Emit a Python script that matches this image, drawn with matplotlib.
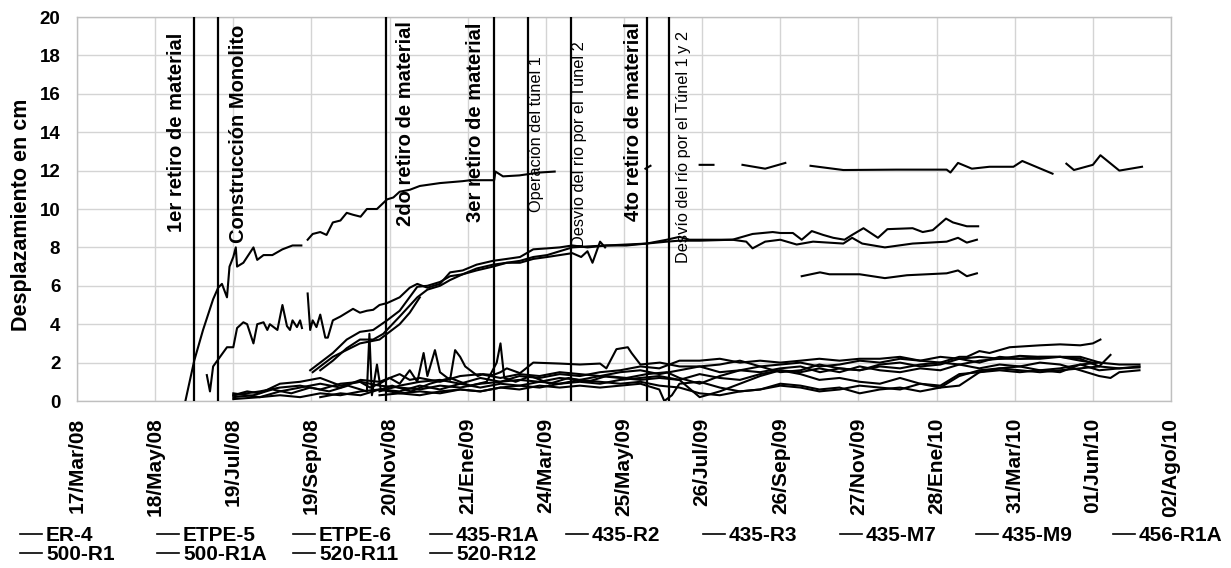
import numpy as np
import matplotlib
matplotlib.use('Agg')
import matplotlib.pyplot as plt
import matplotlib.dates as mdates
from matplotlib.lines import Line2D

plt.rcParams['font.family'] = ['Liberation Sans', 'DejaVu Sans']

nan = np.nan

# eje x: fechas (dias contados desde el 17/Mar/08)
start_date = '2008-03-17'
end_date = '2010-08-02'
tick_dates = ['2008-03-17', '2008-05-18', '2008-07-19', '2008-09-19', '2008-11-20',
              '2009-01-21', '2009-03-24', '2009-05-25', '2009-07-26', '2009-09-26',
              '2009-11-27', '2010-01-28', '2010-03-31', '2010-06-01', '2010-08-02']
tick_labels = ['17/Mar/08', '18/May/08', '19/Jul/08', '19/Sep/08', '20/Nov/08',
               '21/Ene/09', '24/Mar/09', '25/May/09', '26/Jul/09', '26/Sep/09',
               '27/Nov/09', '28/Ene/10', '31/Mar/10', '01/Jun/10', '02/Ago/10']
y_ticks = list(range(0, 21, 2))

# eventos de obra
event_dates = ['2008-06-18', '2008-07-07', '2008-11-17', '2009-02-11',
               '2009-03-10', '2009-04-13', '2009-06-12', '2009-06-30']
event_labels = ['1er retiro de material', 'Construcción Monolito', '2do retiro de material',
                '3er retiro de material', 'Operación del túnel 1', 'Desvío del río por el Túnel 2',
                '4to retiro de material', 'Desvío del río por el Túnel 1 y 2']

# series (dias, cm)
er4_days = [86, 93, 100, 108, 112, 115, 119, 121, 124, 126, 127, 132, 140, 143, 148, 155, 163, 167, 171, 178,
            180, 183, 187, 193, 198, 203, 209, 214, 219, 225, 230, 238, 246, 251, 256, 264, 272, 288, 306, 312,
            331, 332, 338, 351, 367, 379, 400, 451, 455, 470, 494, 505, 515, 528, 546, 562, 570, 582, 608, 650,
            690, 693, 699, 710, 724, 743, 750, 774, 780, 785, 791, 806, 812, 827, 845]
er4_cm = [0, 2.1, 3.7, 5.3, 5.9, 6.1, 5.4, 7.0, 7.5, 8.0, 7.0, 7.2, 8.0, 7.35, 7.6, 7.6, 7.9, 8.0, 8.1, 8.1,
          nan, 8.4, 8.7, 8.8, 8.65, 9.3, 9.4, 9.8, 9.7, 9.6, 10.0, 10.0, 10.5, 10.6, 10.9, 11.0, 11.2, 11.35, 11.45, 11.5,
          11.5, 11.95, 11.7, 11.75, 11.9, 11.95, nan, 12.1, 12.25, nan, 12.3, 12.3, nan, 12.3, 12.1, 12.4, nan, 12.25, 12.03, 12.05,
          12.05, 11.9, 12.4, 12.1, 12.2, 12.2, 12.5, 11.84, nan, 12.36, 12.03, 12.3, 12.8, 12.0, 12.2]

etpe5_days = [103, 105.5, 108, 119, 124, 127, 132, 135, 140, 143, 148, 151, 153, 159, 163, 166.6, 169, 171, 174.5, 177,
              178.5, 180, 183, 185, 187, 190, 193, 197, 199, 203, 209, 214, 219, 224.5, 230, 235, 240, 246, 256, 264,
              270, 278, 288, 296, 306, 317, 330, 341, 351.5, 362, 373, 383, 393, 405, 420, 436, 452, 468, 478, 486,
              494, 520, 536, 552, 558, 568, 575, 583, 592, 600, 609, 615, 624, 635.5, 643, 663, 671, 679, 689.5, 695,
              706, 715]
etpe5_cm = [1.35, 0.5, 1.8, 2.8, 2.8, 3.8, 4.1, 4.0, 3.0, 4.0, 4.1, 3.7, 4.0, 3.7, 5.0, 3.9, 3.7, 4.2, 3.85, 4.2,
            3.8, nan, 5.6, 3.7, 4.2, 3.85, 4.5, 3.3, 3.3, 4.2, 4.4, 4.6, 4.8, 4.6, 4.7, 4.75, 5.0, 5.1, 5.4, 5.9,
            6.1, 5.9, 6.1, 6.7, 6.8, 7.1, 7.3, 7.4, 7.5, 7.9, 7.95, 8.0, 8.1, 8.0, 8.1, 8.1, 8.2, 8.4, 8.55, 8.4,
            8.4, 8.4, 8.7, 8.8, 8.75, 8.75, 8.4, 8.85, 8.65, 8.5, 8.4, 8.65, 9.0, 8.5, 8.95, 9.0, 8.8, 8.9, 9.5, 9.3,
            9.1, 9.1]

etpe6_days = [193, 203, 214, 224.5, 235, 243, 256, 270, 278, 288, 296, 306, 317, 330, 341, 351.5, 362, 373, 383, 393,
              405, 420, 436, 452, 468, 478, 494, 520, 531, 536, 546, 558, 571, 584, 608, 615, 623, 641, 663, 690,
              699, 706, 714]
etpe6_cm = [1.6, 2.1, 2.75, 3.2, 3.2, 3.5, 4.4, 5.4, 5.8, 6.0, 6.3, 6.6, 6.9, 7.1, 7.2, 7.3, 7.5, 7.6, 7.8, 8.0,
            8.05, 8.1, 8.15, 8.2, 8.3, 8.35, 8.35, 8.4, 8.3, 7.95, 8.3, 8.4, 8.15, 8.3, 8.2, 8.5, 8.2, 8.0, 8.2, 8.3,
            8.5, 8.25, 8.4]

r1a435_days = [185, 193, 203, 214, 224.5, 235, 246, 256, 270, 278, 288, 296, 306, 317, 330, 341, 351.5, 362, 373, 383,
               393, 400, 405, 409, 415, 419]
r1a435_cm = [1.6, 2.0, 2.5, 3.2, 3.6, 3.7, 4.2, 4.7, 5.95, 6.0, 6.2, 6.5, 6.6, 6.8, 7.0, 7.2, 7.2, 7.4, 7.5, 7.6,
             7.7, 7.5, 7.8, 7.2, 8.3, 8.0]

r2435_days = [187, 203, 224.5, 240, 256, 264, 272, 300, 575, 589.5, 597, 611, 621, 641, 658.5, 690, 699, 706, 714]
r2435_cm = [1.5, 2.3, 3.0, 3.2, 4.0, 4.6, 5.4, nan, 6.5, 6.7, 6.6, 6.6, 6.6, 6.4, 6.55, 6.65, 6.8, 6.5, 6.65]

r3435_days = [124, 135, 145, 161, 177, 193, 209, 224.5, 232.5, 240, 248, 256, 264, 270, 275, 278, 284, 288, 296, 300,
              304, 308, 312, 318, 322, 330, 336, 341, 351.5, 362, 383, 399, 415, 420, 428, 437, 440, 447, 462.5, 478,
              494, 510, 526, 542, 558, 574, 589.5, 605, 621, 637, 653, 669, 685, 700.5, 716, 732, 748, 764, 780, 796,
              811.6]
r3435_cm = [0.3, 0.5, 0.4, 0.9, 1.0, 1.2, 0.8, 1.0, 0.7, 0.9, 1.2, 0.9, 1.6, 1.0, 2.5, 1.3, 2.65, 1.5, 1.1, 2.65,
            2.3, 1.8, 1.6, 1.3, 1.4, 1.35, 1.5, 1.7, 1.45, 2.0, 1.95, 1.9, 1.95, 1.7, 2.7, 2.8, 2.5, 1.9, 2.0, 1.8,
            1.8, 1.5, 1.6, 1.5, 1.7, 1.8, 1.5, 1.7, 1.6, 1.8, 1.7, 1.9, 2.0, 1.9, 2.1, 2.2, 2.2, 2.2, 2.3, 2.3,
            2.0]

m7435_days = [124, 140, 155, 170, 185, 200, 215, 225, 230, 232, 234, 238, 241, 250, 265, 280, 296, 312, 325, 333,
              336, 339, 348, 360, 375, 390, 405, 420, 436, 452, 468, 478, 494, 510, 526, 542, 558, 574, 589, 605,
              621, 637, 653, 669, 685, 700, 716, 732, 748, 764, 780, 796, 806]
m7435_cm = [0.2, 0.3, 0.6, 0.4, 0.7, 0.5, 0.8, 0.6, 0.5, 3.5, 0.3, 1.9, 0.6, 0.8, 0.5, 0.9, 1.2, 0.8, 1.0, 2.0,
            3.0, 1.2, 1.0, 1.3, 0.9, 1.2, 1.0, 1.3, 1.2, 1.4, 1.5, 1.2, 0.9, 1.3, 1.6, 1.8, 1.5, 1.6, 1.9, 1.7,
            1.6, 1.9, 2.0, 1.8, 1.9, 2.2, 2.0, 2.3, 2.2, 2.3, 2.3, 2.1, 2.0]

m9435_days = [124, 145, 161, 177, 193, 209, 225, 240, 256, 272, 288, 304, 320, 336, 351, 367, 383, 399, 415, 431,
              447, 462, 466, 472, 478, 494, 510, 526, 542, 558, 574, 589, 605, 621, 637, 653, 669, 685, 700, 716,
              732, 748, 764, 780, 796, 811, 827, 843]
m9435_cm = [0.1, 0.2, 0.3, 0.2, 0.4, 0.3, 0.5, 0.6, 0.4, 0.5, 0.4, 0.6, 0.5, 0.7, 0.6, 0.8, 0.7, 0.8, 0.7, 0.8,
            0.9, 0.6, 0.0, 0.3, 0.9, 1.0, 0.7, 0.5, 0.6, 0.9, 0.8, 0.6, 0.7, 0.4, 0.6, 0.7, 0.5, 0.7, 0.8, 1.5,
            1.7, 1.6, 1.5, 1.6, 1.7, 1.8, 1.7, 1.75]

r1a456_days = [124, 145, 161, 177, 193, 209, 225, 240, 256, 272, 288, 304, 320, 336, 351, 367, 383, 399, 415, 431,
               447, 462, 478, 494, 510, 526, 542, 558, 574, 589, 605, 621, 637, 653, 669, 685, 700, 716, 732, 748,
               764, 780, 796, 811, 827, 843]
r1a456_cm = [0.3, 0.5, 0.7, 0.8, 0.6, 0.9, 1.0, 0.8, 0.7, 0.6, 0.8, 0.7, 0.9, 1.0, 1.1, 1.0, 1.2, 1.1, 1.3, 1.2,
             1.1, 1.2, 1.1, 0.2, 0.5, 0.9, 1.3, 1.6, 1.4, 1.1, 1.2, 1.0, 0.9, 1.2, 0.9, 0.7, 1.3, 1.6, 1.7, 1.8,
             1.6, 1.7, 1.9, 1.6, 1.7, 1.8]

r1500_days = [240, 256, 272, 288, 304, 320, 336, 351, 367, 383, 399, 415, 431, 447, 462, 478, 494, 510, 526, 542,
              558, 574, 589, 605, 621, 637, 653, 669, 685, 700, 706, 716, 724, 740, 764, 780, 796, 806, 812]
r1500_cm = [0.5, 0.8, 1.0, 1.1, 0.9, 1.2, 1.0, 1.3, 1.2, 1.4, 1.3, 1.5, 1.6, 1.8, 1.7, 2.1, 2.1, 2.2, 2.0, 2.1,
            2.0, 2.1, 2.2, 2.1, 2.2, 2.2, 2.3, 2.1, 2.0, 2.3, 2.3, 2.6, 2.5, 2.8, 2.9, 2.95, 2.9, 3.0, 3.2]

r1a500_days = [124, 145, 161, 177, 193, 209, 225, 240, 256, 264, 272, 288, 304, 320, 336, 351, 367, 383, 399, 415,
               431, 447, 462, 478, 494, 510, 526, 542, 558, 574, 589, 605, 621, 637, 653, 669, 685, 700, 716, 732,
               748, 764, 780, 796, 811, 820]
r1a500_cm = [0.4, 0.2, 0.5, 0.7, 0.9, 0.7, 1.1, 1.0, 1.4, 1.1, 1.2, 1.0, 1.3, 1.4, 1.2, 1.4, 1.3, 1.5, 1.4, 1.3,
             1.5, 1.6, 1.4, 1.6, 1.8, 1.9, 2.1, 1.8, 1.9, 2.0, 1.8, 1.9, 2.1, 2.0, 2.2, 2.1, 2.3, 2.2, 2.3, 2.2,
             2.35, 2.3, 2.3, 2.2, 1.8, 2.4]

r11520_days = [193, 209, 225, 240, 256, 272, 288, 304, 320, 336, 351, 367, 383, 399, 415, 431, 447, 462, 478, 494,
               510, 526, 542, 558, 574, 589, 605, 621, 637, 653, 669, 685, 700, 716, 732, 748, 764, 780, 796, 811,
               827, 843]
r11520_cm = [0.2, 0.4, 0.3, 0.6, 0.5, 0.8, 0.6, 0.9, 0.7, 0.9, 0.8, 1.0, 0.9, 1.1, 1.0, 0.9, 1.0, 0.8, 0.7, 0.4,
             0.3, 0.5, 0.6, 0.8, 0.7, 0.5, 0.6, 0.8, 0.7, 0.6, 0.9, 0.8, 1.4, 1.5, 1.6, 1.5, 1.6, 1.5, 1.9, 2.0,
             1.9, 1.9]

r12520_days = [240, 256, 272, 288, 304, 320, 336, 351, 367, 383, 399, 415, 431, 447, 462, 478, 494, 510, 526, 542,
               558, 574, 589, 605, 621, 637, 653, 669, 685, 700, 716, 732, 748, 764, 780, 796, 811, 820, 827, 843]
r12520_cm = [0.3, 0.4, 0.3, 0.5, 0.6, 0.5, 0.7, 0.8, 0.7, 0.9, 1.0, 0.9, 1.1, 1.2, 1.3, 1.1, 1.4, 1.2, 1.1, 1.4,
             1.6, 1.5, 1.7, 1.5, 1.8, 1.6, 1.5, 1.7, 1.6, 1.9, 1.7, 1.9, 1.8, 2.0, 1.9, 1.6, 1.3, 1.2, 1.5, 1.6]

series_names = ['ER-4', 'ETPE-5', 'ETPE-6', '435-R1A', '435-R2', '435-R3', '435-M7', '435-M9', '456-R1A',
                '500-R1', '500-R1A', '520-R11', '520-R12']
series_days = [er4_days, etpe5_days, etpe6_days, r1a435_days, r2435_days, r3435_days, m7435_days, m9435_days,
               r1a456_days, r1500_days, r1a500_days, r11520_days, r12520_days]
series_cm = [er4_cm, etpe5_cm, etpe6_cm, r1a435_cm, r2435_cm, r3435_cm, m7435_cm, m9435_cm,
             r1a456_cm, r1500_cm, r1a500_cm, r11520_cm, r12520_cm]

W, H = 1231, 568
fig = plt.figure(figsize=(W / 100, H / 100), dpi=100)
ax = fig.add_axes([77 / W, 1 - 401 / H, 1094 / W, 384 / H])

t0 = mdates.date2num(np.datetime64(start_date))
t1 = mdates.date2num(np.datetime64(end_date))

for days, cm in zip(series_days, series_cm):
    ax.plot(t0 + np.array(days, dtype=float), cm, color='black', lw=1.5, zorder=3)

# lineas verticales de eventos y sus textos
label_style = [(-12.6, 13.98, 14.5, 'bold'), (14.8, 13.92, 14.5, 'bold'), (14.4, 14.45, 14.5, 'bold'),
               (-13.3, 14.52, 14.5, 'bold'), (5.8, 13.92, 11.8, 'normal'), (6.1, 13.4, 11.8, 'normal'),
               (-9.4, 14.57, 14.5, 'bold'), (10.4, 13.25, 11.8, 'normal')]
for d, lab, (dx, ym, fs, fw) in zip(event_dates, event_labels, label_style):
    xd = mdates.date2num(np.datetime64(d))
    ax.axvline(xd, color='black', lw=1.6, zorder=4)
    ax.annotate(lab, xy=(xd, ym), xytext=(dx, 0), textcoords='offset points',
                rotation=90, ha='center', va='center', fontsize=fs, fontweight=fw, zorder=5)

ax.set_xlim(t0, t1)
ax.set_ylim(0, 20)
ax.set_xticks([mdates.date2num(np.datetime64(d)) for d in tick_dates])
ax.set_xticklabels(tick_labels, rotation=90, fontsize=15, fontweight='bold', va='top', ha='center')
ax.set_yticks(y_ticks)
ax.set_yticklabels([str(v) for v in y_ticks], fontsize=13.5, fontweight='bold')
ax.tick_params(axis='both', length=0, pad=12)
ax.grid(True, color='#d4d4d4', lw=1.0, zorder=0)
ax.set_axisbelow(True)
for sp in ax.spines.values():
    sp.set_color('#bfbfbf')
    sp.set_linewidth(1.0)

ax.set_ylabel('Desplazamiento en cm', fontsize=15.5, fontweight='bold')
ax.yaxis.set_label_coords(-0.041, 0.484)

# leyenda en 9 columnas
col_x = [20, 157, 293, 430, 566, 703, 840, 976, 1113]
for k, x in enumerate(col_x):
    idx = [k] + ([k + 9] if k + 9 < len(series_names) else [])
    hs = [Line2D([], [], color='black', lw=1.2) for _ in idx]
    fig.legend(hs, [series_names[i] for i in idx], loc='upper left',
               bbox_to_anchor=(x / W, 1 - 526 / H), frameon=False,
               prop=dict(size=15, weight='bold'), handlelength=1.05, handletextpad=0.2,
               borderpad=0, borderaxespad=0, labelspacing=0.0)

fig.savefig('out.png', dpi=100)
